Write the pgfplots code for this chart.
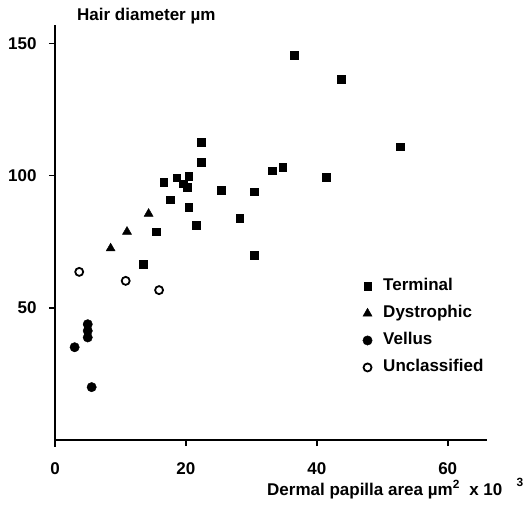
\documentclass[border=0pt]{standalone}
\usepackage{fontspec}
\setmainfont{Liberation Sans}
\usepackage{pgfplots}
\pgfplotsset{compat=1.18}

% values
\pgfplotstableread{
x y
36.5 145.5
43.7 136.6
22.3 112.6
22.3 105.0
33.2 101.9
34.8 103.1
41.4 99.4
16.6 97.5
18.6 99.2
20.4 99.7
19.6 97.0
20.2 95.6
25.4 94.4
30.4 93.9
17.6 90.9
20.4 88.0
28.2 83.8
21.6 81.3
15.5 78.8
30.4 69.8
13.5 66.5
52.7 111.0
}\terminal
\pgfplotstableread{
x y
14.3 85.6
11.0 78.8
8.5 72.5
}\dystrophic
\pgfplotstableread{
x y
3.0 35.1
5.0 43.8
5.0 41.3
5.0 38.8
5.6 20.0
}\vellus
\pgfplotstableread{
x y
3.7 63.6
10.8 60.2
15.9 56.7
}\unclassified

\begin{document}
\begin{tikzpicture}[font=\fontsize{17}{20}\selectfont\bfseries]
\begin{axis}[
  scale only axis, width=432pt, height=415pt,
  xmin=0, xmax=66, ymin=0, ymax=157,
  axis x line*=bottom, axis y line*=left,
  axis line style={line width=1.6pt},
  xtick={0,20,40,60}, ytick={50,100,150},
  tick align=outside, major tick length=6pt,
  tick style={line width=1.6pt, black},
  /pgf/number format/assume math mode=true,
  ticklabel style={font=\fontsize{17}{20}\selectfont\bfseries},
  yticklabel style={xshift=-9pt},
  xticklabel style={yshift=-13pt},
  title={Hair diameter µm},
  title style={at={(rel axis cs:0,1)}, anchor=base west, xshift=22pt, yshift=-2pt, inner sep=0pt},
  xlabel={Dermal papilla area µm\textsuperscript{2}\ \ x 10\ \ \ \raisebox{2pt}{\textsuperscript{3}}},
  xlabel style={at={(rel axis cs:0,0)}, anchor=base west, xshift=212pt, yshift=-55pt, inner sep=0pt},
  legend cell align=left,
  legend style={at={(axis cs:47,61)}, anchor=north west, draw=none, fill=none,
    inner sep=0pt, row sep=12pt,
    nodes={inner sep=0pt, text height=12pt, text depth=3pt},
    /tikz/every odd column/.append style={column sep=11pt}},
]
\addplot[only marks, mark=square*, mark size=3.8pt, black] table {\terminal};
\addlegendentry{Terminal}
\addplot[only marks, mark=triangle*, mark size=5.2pt, black] table {\dystrophic};
\addlegendentry{Dystrophic}
\addplot[only marks, mark=*, mark size=4.7pt, black] table {\vellus};
\addlegendentry{Vellus}
\addplot[only marks, mark=o, mark size=4pt, black, mark options={line width=1.8pt}] table {\unclassified};
\addlegendentry{Unclassified}
\coordinate (o) at (axis cs:0,0);
\end{axis}
\draw[line width=1.6pt] (o) -- ++(0,-7pt);
\path[use as bounding box] (o) ++(-55pt,-65pt) rectangle ++(526pt,505pt);
\end{tikzpicture}
\end{document}
